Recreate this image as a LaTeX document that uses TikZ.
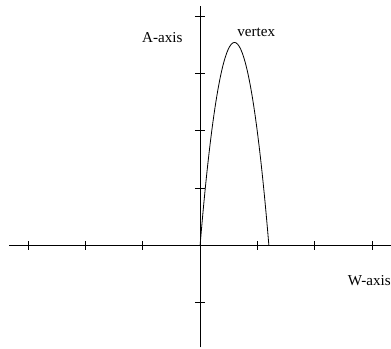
\documentclass[tikz,border=0pt]{standalone}
\usepackage{fontspec}
\setmainfont{Liberation Serif}
\usepackage{tikz}
\usepackage{xcolor}
\begin{document}
\begin{tikzpicture}[lbl/.style={font=\fontsize{7.5}{9}\selectfont, inner sep=0pt}]
\useasboundingbox (-3.49,-1.80) rectangle (3.33,4.28);
\coordinate (o) at (0,0);
\coordinate (wl) at (-3.33,0); \coordinate (wr) at (3.33,0);
\coordinate (ab) at (0,-1.78); \coordinate (at) at (0,4.17);
\coordinate (root) at (1.2,0);

\draw (wl) -- (wr);
\draw (ab) -- (at);
\foreach \x in {-3,-2,-1,1,2,3} \draw (\x,-0.08) -- (\x,0.08);
\foreach \y in {-1,1,2,3,4} \draw (-0.09,\y) -- (0.09,\y);

\draw (o) parabola bend (0.6,3.54) (root);

\node[lbl] (aaxis) at (-0.66,3.63) {A-axis};
\node[lbl] (vertex) at (0.98,3.72) {vertex};
\node[lbl, anchor=west] (waxis) at (2.57,-0.61) {W-axis};
\end{tikzpicture}
\end{document}
